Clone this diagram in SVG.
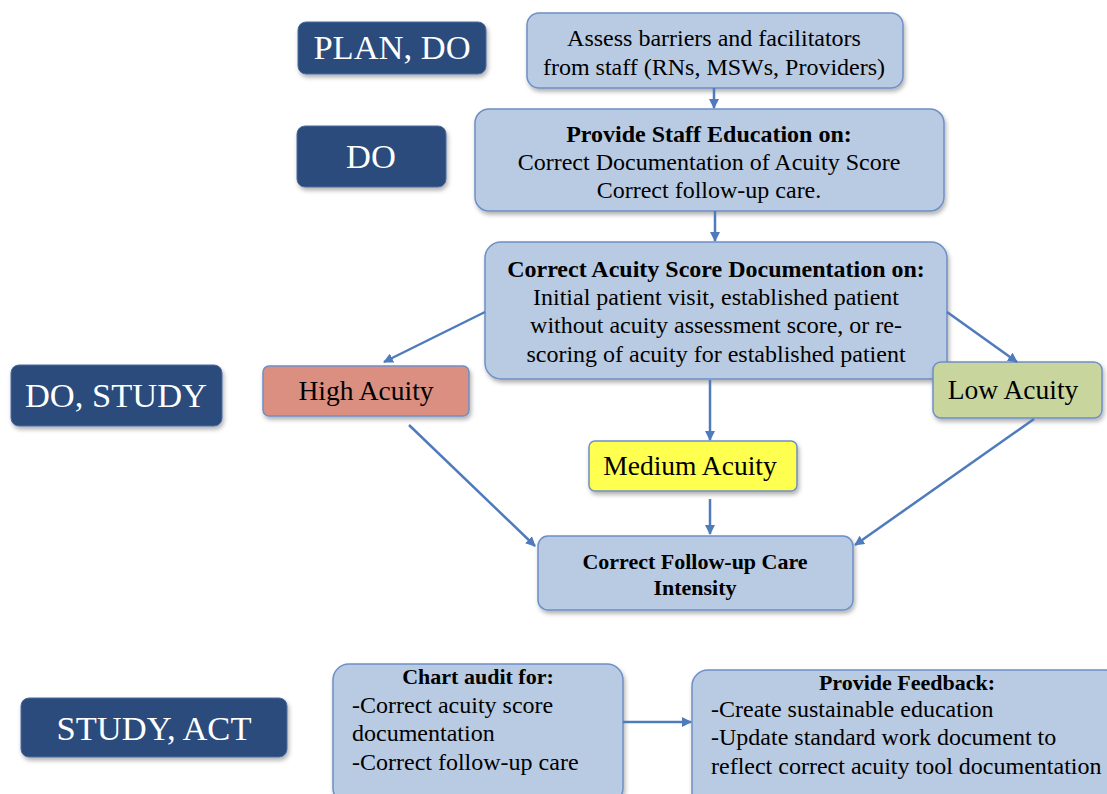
<svg xmlns="http://www.w3.org/2000/svg" width="1107" height="794" viewBox="0 0 1107 794">
  <style>
    .phase { fill: #2a4b7c; stroke: #4a6aa0; stroke-width: 1; filter: url(#shadow); }
    .phase-text { font-family: "Liberation Serif", serif; font-size: 34.5px; fill: #ffffff; text-anchor: middle; }
    .step { fill: #b9cbe3; stroke: #6e8fc6; stroke-width: 1.5; filter: url(#shadow); }
    .t { font-family: "Liberation Serif", serif; font-size: 24px; fill: #000000; }
    .c { text-anchor: middle; }
    .b { font-weight: bold; }
    .h22 { font-size: 22px; }
    .lvl { font-family: "Liberation Serif", serif; font-size: 27.5px; fill: #000000; text-anchor: middle; }
    .conn { stroke: #4f7bbd; stroke-width: 2.5; fill: none; marker-end: url(#arrow); }
  </style>
  <defs>
    <filter id="shadow" x="-10%" y="-10%" width="130%" height="140%">
      <feDropShadow dx="1.5" dy="3" stdDeviation="2" flood-color="#000000" flood-opacity="0.3"/>
    </filter>
    <marker id="arrow" viewBox="0 0 10 10" refX="9" refY="5" markerWidth="4" markerHeight="4" orient="auto" markerUnits="strokeWidth">
      <path d="M0,0 L10,5 L0,10 z" fill="#4f7bbd"/>
    </marker>
  </defs>

  <rect width="1107" height="794" fill="#ffffff"/>

  <!-- phase labels -->
  <g id="phase-plan-do">
    <rect class="phase" x="298" y="22" width="188" height="52" rx="8"/>
    <text class="phase-text" x="392" y="59">PLAN, DO</text>
  </g>
  <g id="phase-do">
    <rect class="phase" x="297" y="126" width="149" height="61" rx="8"/>
    <text class="phase-text" x="371" y="168">DO</text>
  </g>
  <g id="phase-do-study">
    <rect class="phase" x="11" y="365" width="211" height="61" rx="8"/>
    <text class="phase-text" x="116" y="407">DO, STUDY</text>
  </g>
  <g id="phase-study-act">
    <rect class="phase" x="21" y="698" width="266" height="59" rx="8"/>
    <text class="phase-text" x="154" y="740">STUDY, ACT</text>
  </g>

  <!-- process steps -->
  <g id="assess">
    <rect class="step" x="527" y="13" width="376" height="75" rx="12"/>
    <text class="t c" x="714" y="46">Assess barriers and facilitators</text>
    <text class="t c" x="714" y="75">from staff (RNs, MSWs, Providers)</text>
  </g>
  <g id="education">
    <rect class="step" x="475" y="109" width="469" height="102" rx="14"/>
    <text class="t c b" x="709" y="142">Provide Staff Education on:</text>
    <text class="t c" x="709" y="170">Correct Documentation of Acuity Score</text>
    <text class="t c" x="709" y="198">Correct follow-up care.</text>
  </g>
  <g id="documentation">
    <rect class="step" x="485" y="242" width="462" height="137" rx="16"/>
    <text class="t c b" x="716" y="277">Correct Acuity Score Documentation on:</text>
    <text class="t c" x="716" y="305">Initial patient visit, established patient</text>
    <text class="t c" x="716" y="333">without acuity assessment score, or re-</text>
    <text class="t c" x="716" y="362">scoring of acuity for established patient</text>
  </g>
  <g id="high-acuity">
    <rect x="263" y="366" width="206" height="50" rx="6" fill="#da8f80" stroke="#6e8fc6" stroke-width="1.5" filter="url(#shadow)"/>
    <text class="lvl" x="366" y="400">High Acuity</text>
  </g>
  <g id="low-acuity">
    <rect x="933" y="362" width="169" height="56" rx="8" fill="#c8d69e" stroke="#6e8fc6" stroke-width="1.5" filter="url(#shadow)"/>
    <text class="lvl" x="1013" y="399">Low Acuity</text>
  </g>
  <g id="medium-acuity">
    <rect x="589" y="441" width="208" height="50" rx="6" fill="#ffff4f" stroke="#6e8fc6" stroke-width="1.5" filter="url(#shadow)"/>
    <text class="lvl" x="690" y="475">Medium Acuity</text>
  </g>
  <g id="follow-up">
    <rect class="step" x="538" y="536" width="315" height="74" rx="10"/>
    <text class="t c b h22" x="695" y="569">Correct Follow-up Care</text>
    <text class="t c b h22" x="695" y="595">Intensity</text>
  </g>
  <g id="chart-audit">
    <rect class="step" x="333" y="664" width="290" height="140" rx="16"/>
    <text class="t c b h22" x="478" y="684">Chart audit for:</text>
    <text class="t" x="352" y="713">-Correct acuity score</text>
    <text class="t" x="352" y="741">documentation</text>
    <text class="t" x="352" y="770">-Correct follow-up care</text>
  </g>
  <g id="feedback">
    <rect class="step" x="692" y="670" width="430" height="140" rx="16"/>
    <text class="t c b h22" x="907" y="690">Provide Feedback:</text>
    <text class="t" x="711" y="717">-Create sustainable education</text>
    <text class="t" x="711" y="745">-Update standard work document to</text>
    <text class="t" x="711" y="774">reflect correct acuity tool documentation</text>
  </g>

  <!-- connectors -->
  <g id="connectors">
    <line class="conn" x1="714" y1="88" x2="714" y2="108"/>
    <line class="conn" x1="715" y1="211" x2="715" y2="241"/>
    <line class="conn" x1="485" y1="312" x2="384" y2="362"/>
    <line class="conn" x1="947" y1="312" x2="1017" y2="362"/>
    <line class="conn" x1="710" y1="380" x2="710" y2="440"/>
    <line class="conn" x1="409" y1="425" x2="535" y2="546"/>
    <line class="conn" x1="710" y1="499" x2="710" y2="534"/>
    <line class="conn" x1="1034" y1="419" x2="855" y2="545"/>
    <line class="conn" x1="623" y1="722" x2="691" y2="722"/>
  </g>
</svg>
